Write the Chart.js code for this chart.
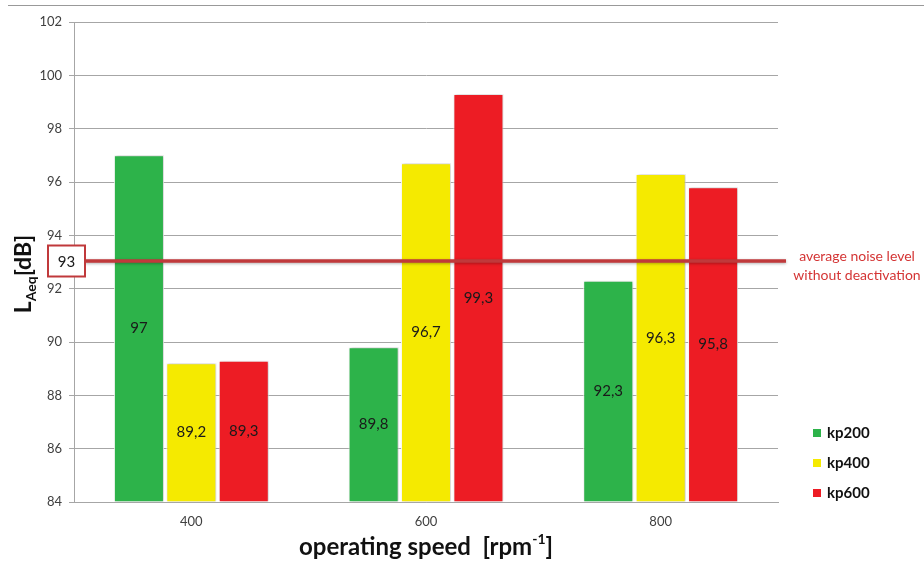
<!DOCTYPE html>
<html>
<head>
<meta charset="utf-8">
<script src="https://cdn.jsdelivr.net/npm/chart.js@4"></script>
<style>
  html, body { margin: 0; padding: 0; background: #fff; }
  #wrap { width: 924px; height: 562px; position: relative; }
</style>
</head>
<body>
<div id="wrap"><canvas id="c" width="924" height="562"></canvas></div>
<script>
// Noise level L_Aeq by operating speed for three settings
const speeds = ['400', '600', '800'];
const kp200 = [97, 89.8, 92.3];
const kp400 = [89.2, 96.7, 96.3];
const kp600 = [89.3, 99.3, 95.8];
const seriesNames = ['kp200', 'kp400', 'kp600'];
const seriesColors = ['#2db34a', '#f5ea00', '#ed1c24'];
const yMin = 84, yMax = 102, yStep = 2;
const averageLevel = 93;
const averageNote = ['average noise level', 'without deactivation'];

const FONT = 'Lato, "Open Sans", sans-serif';
const fmt = v => String(v).replace('.', ',');

const decor = {
  id: 'decor',
  beforeDatasetsDraw(chart) {
    const ctx = chart.ctx;
    ctx.save();
    ctx.shadowColor = 'rgba(0,0,0,0.28)';
    ctx.shadowBlur = 3;
    ctx.shadowOffsetX = 1;
    ctx.shadowOffsetY = 0;
  },
  afterDatasetsDraw(chart) {
    const ctx = chart.ctx;
    ctx.restore();
    const ys = chart.scales.y;

    // value labels centred inside each bar
    ctx.save();
    ctx.font = '15px ' + FONT;
    ctx.fillStyle = '#1a1a1a';
    ctx.textAlign = 'center';
    ctx.textBaseline = 'middle';
    chart.data.datasets.forEach((ds, i) => {
      chart.getDatasetMeta(i).data.forEach((bar, j) => {
        const mid = (bar.y + bar.base) / 2;
        ctx.fillText(fmt(ds.data[j]), bar.x, mid);
      });
    });
    ctx.restore();

    // average level reference line with its value box
    const yl = ys.getPixelForValue(averageLevel) - 1;
    const boxL = 48, boxR = 85, boxH = 31;
    ctx.save();
    ctx.shadowColor = 'rgba(0,0,0,0.3)';
    ctx.shadowBlur = 3;
    ctx.shadowOffsetY = 1;
    ctx.strokeStyle = '#c0393b';
    ctx.lineWidth = 3.5;
    ctx.beginPath();
    ctx.moveTo(boxR, yl);
    ctx.lineTo(786, yl);
    ctx.stroke();
    ctx.restore();

    ctx.save();
    ctx.fillStyle = '#fff';
    ctx.fillRect(boxL, yl - boxH / 2, boxR - boxL, boxH);
    ctx.strokeStyle = '#c0393b';
    ctx.lineWidth = 2;
    ctx.strokeRect(boxL, yl - boxH / 2, boxR - boxL, boxH);
    ctx.fillStyle = '#1a1a1a';
    ctx.font = '15px ' + FONT;
    ctx.textAlign = 'center';
    ctx.textBaseline = 'middle';
    ctx.fillText(String(averageLevel), (boxL + boxR) / 2, yl + 1);
    ctx.restore();
  },
  afterDraw(chart) {
    const ctx = chart.ctx;
    const area = chart.chartArea;
    const ys = chart.scales.y;
    const yl = ys.getPixelForValue(averageLevel) - 1;

    // top frame line
    ctx.save();
    ctx.strokeStyle = '#999';
    ctx.lineWidth = 1;
    ctx.beginPath();
    ctx.moveTo(8, 5.5);
    ctx.lineTo(924, 5.5);
    ctx.stroke();
    ctx.restore();

    // note next to the average line
    ctx.save();
    ctx.fillStyle = '#d43535';
    ctx.font = '14px ' + FONT;
    ctx.textAlign = 'center';
    ctx.textBaseline = 'middle';
    ctx.fillText(averageNote[0], 857, yl - 5);
    ctx.fillText(averageNote[1], 857, yl + 14);
    ctx.restore();

    // legend
    ctx.save();
    ctx.font = 'bold 15px ' + FONT;
    ctx.textBaseline = 'middle';
    ctx.textAlign = 'left';
    chart.data.datasets.forEach((ds, i) => {
      const cy = 433 + i * 30;
      ctx.fillStyle = ds.backgroundColor;
      ctx.fillRect(813, cy - 4, 8, 8);
      ctx.fillStyle = '#111';
      ctx.fillText(ds.label, 827, cy);
    });
    ctx.restore();

    // y axis title: L with subscript Aeq, then [dB]
    ctx.save();
    ctx.translate(23, 274);
    ctx.rotate(-Math.PI / 2);
    ctx.fillStyle = '#111';
    ctx.textBaseline = 'alphabetic';
    const big = 'bold 23px ' + FONT, small = 'bold 14px ' + FONT;
    ctx.font = big; const wL = ctx.measureText('L').width;
    ctx.font = small; const wA = ctx.measureText('Aeq').width;
    ctx.font = big; const wD = ctx.measureText('[dB]').width;
    let x = -(wL + wA + wD) / 2;
    const base = 8;
    ctx.font = big; ctx.fillText('L', x, base); x += wL;
    ctx.font = small; ctx.fillText('Aeq', x, base + 5); x += wA;
    ctx.font = big; ctx.fillText('[dB]', x, base);
    ctx.restore();

    // x axis title with superscript
    ctx.save();
    ctx.fillStyle = '#111';
    const t1 = 'operating speed  [rpm', t2 = '-1', t3 = ']';
    const bx = 'bold 24px ' + FONT, sx = 'bold 14px ' + FONT;
    ctx.font = bx; const w1 = ctx.measureText(t1).width, w3 = ctx.measureText(t3).width;
    ctx.font = sx; const w2 = ctx.measureText(t2).width;
    let xx = (area.left + area.right) / 2 - (w1 + w2 + w3) / 2;
    const by = 555;
    ctx.font = bx; ctx.fillText(t1, xx, by); xx += w1;
    ctx.font = sx; ctx.fillText(t2, xx, by - 11); xx += w2;
    ctx.font = bx; ctx.fillText(t3, xx, by);
    ctx.restore();
  }
};

const datasets = [kp200, kp400, kp600].map((vals, i) => ({
  label: seriesNames[i],
  data: vals,
  backgroundColor: seriesColors[i],
  borderColor: 'rgba(255,255,255,0.9)',
  borderWidth: 1,
  base: yMin,
  categoryPercentage: 0.67,
  barPercentage: 0.955
}));

new Chart(document.getElementById('c'), {
  type: 'bar',
  data: { labels: speeds, datasets },
  options: {
    responsive: false,
    animation: false,
    devicePixelRatio: 1,
    layout: { padding: { left: 0, right: 146, top: 22, bottom: 0 } },
    plugins: { legend: { display: false }, tooltip: { enabled: false } },
    scales: {
      x: {
        grid: { display: false, drawTicks: false },
        border: { color: '#a6a6a6', width: 1 },
        ticks: { font: { family: FONT, size: 13 }, color: '#404040', padding: 12 },
        afterFit(s) { s.height = 60; }
      },
      y: {
        min: yMin, max: yMax,
        ticks: { stepSize: yStep, font: { family: FONT, size: 13 }, color: '#404040', padding: 7 },
        grid: { color: '#a6a6a6', lineWidth: 1, tickLength: 5 },
        border: { color: '#a6a6a6', width: 1 },
        afterFit(s) { s.width = 74; }
      }
    }
  },
  plugins: [decor]
});
</script>
</body>
</html>
